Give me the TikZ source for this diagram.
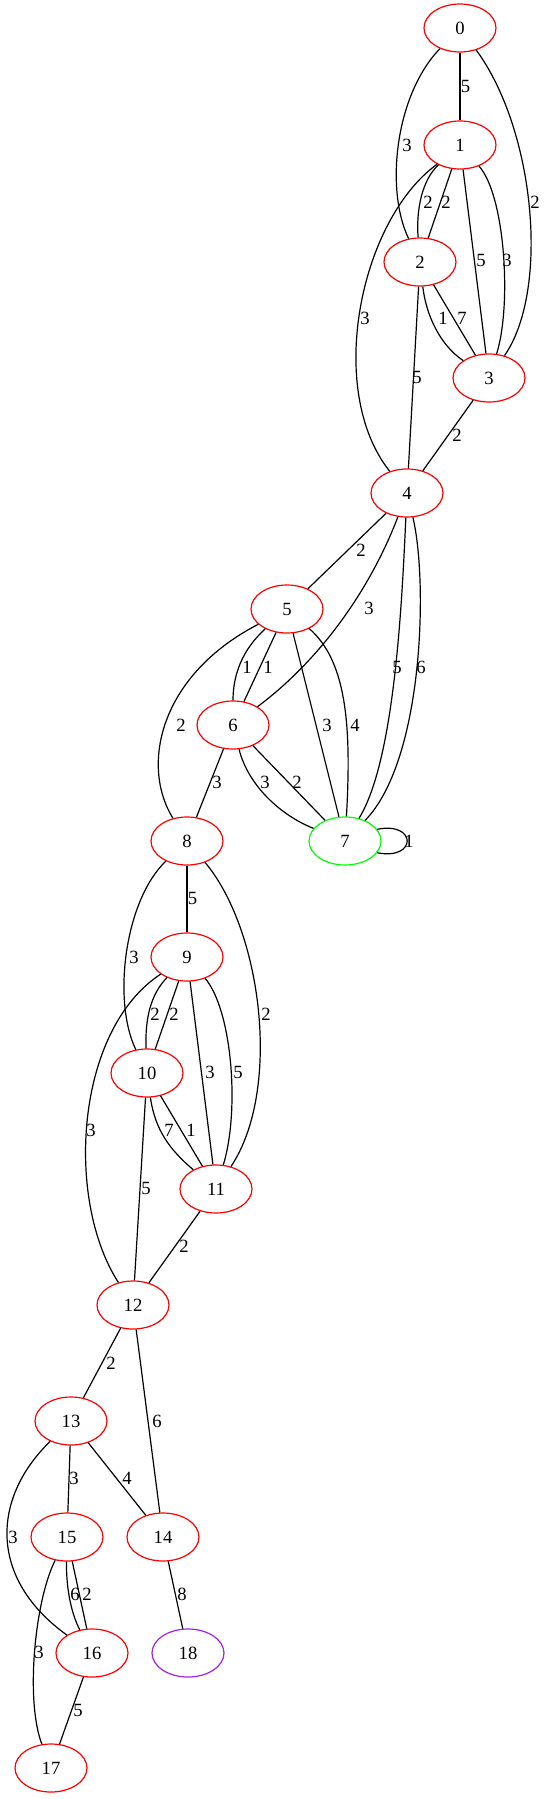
\documentclass[tikz,border=0pt]{standalone}
\usepackage{fontspec}
\setmainfont{Liberation Serif}
\usetikzlibrary{shapes.geometric}
\definecolor{gvred}{HTML}{FF0000}
\definecolor{gvgreen}{HTML}{00FF00}
\definecolor{gvpurple}{HTML}{A020F0}
\begin{document}
\begin{tikzpicture}[x=0.75pt,y=-0.75pt,
  gnode/.style={ellipse,draw=gvred,line width=0.9pt,minimum width=54pt,minimum height=36pt,inner sep=0pt,font=\fontsize{14}{16}\selectfont},
  elab/.style={inner sep=0pt,font=\fontsize{14}{16}\selectfont},
  gedge/.style={line width=0.9pt,black}]
\useasboundingbox (0,0) rectangle (546,1799);
% nodes
\node[gnode] (n0) at (460,28) {0};
\node[gnode] (n1) at (460,145) {1};
\node[gnode] (n2) at (420,262) {2};
\node[gnode] (n3) at (489,378) {3};
\node[gnode] (n4) at (407,493) {4};
\node[gnode] (n5) at (287,609) {5};
\node[gnode] (n6) at (233,725) {6};
\node[gnode,draw=gvgreen] (n7) at (345,841) {7};
\node[gnode] (n8) at (187,841) {8};
\node[gnode] (n9) at (187,957) {9};
\node[gnode] (n10) at (147,1073) {10};
\node[gnode] (n11) at (216,1189) {11};
\node[gnode] (n12) at (133,1305) {12};
\node[gnode] (n13) at (71,1421) {13};
\node[gnode] (n14) at (163,1537) {14};
\node[gnode] (n15) at (67,1537) {15};
\node[gnode] (n16) at (92,1653) {16};
\node[gnode,draw=gvpurple] (n18) at (188,1653) {18};
\node[gnode] (n17) at (51,1768) {17};
% edges
\draw[gedge] (n0) -- (n1);
\draw[gedge] (n0) .. controls (395,95) and (385,190) .. (n2);
\draw[gedge] (n0) .. controls (535,130) and (550,290) .. (n3);
\draw[gedge] (n1) .. controls (422,180) and (416,210) .. (n2);
\draw[gedge] (n1) -- (n2);
\draw[gedge] (n1) -- (n3);
\draw[gedge] (n1) .. controls (505,195) and (512,305) .. (n3);
\draw[gedge] (n1.-140) .. controls (360,220) and (325,390) .. (n4);
\draw[gedge] (n2) .. controls (426,315) and (440,345) .. (n3);
\draw[gedge] (n2) -- (n3);
\draw[gedge] (n2) -- (n4);
\draw[gedge] (n3) -- (n4);
\draw[gedge] (n4) -- (n5);
\draw[gedge] (n4) .. controls (370,590) and (320,660) .. (n6);
\draw[gedge] (n4) .. controls (402,600) and (395,760) .. (n7);
\draw[gedge] (n4) .. controls (428,580) and (424,760) .. (n7);
\draw[gedge] (n5) .. controls (242,650) and (233,675) .. (n6);
\draw[gedge] (n5) -- (n6);
\draw[gedge] (n5) -- (n7);
\draw[gedge] (n5) .. controls (345,660) and (352,720) .. (n7);
\draw[gedge] (n5.-152) .. controls (160,675) and (140,765) .. (n8);
\draw[gedge] (n6) .. controls (248,785) and (280,815) .. (n7);
\draw[gedge] (n6) -- (n7);
\draw[gedge] (n6) -- (n8);
\draw[gedge] (n7.20) .. controls +(40,-8) and +(40,8) .. (n7.-20);
\draw[gedge] (n8) -- (n9);
\draw[gedge] (n8) .. controls (125,900) and (112,1000) .. (n10);
\draw[gedge] (n8) .. controls (262,930) and (282,1090) .. (n11);
\draw[gedge] (n9) .. controls (150,995) and (145,1020) .. (n10);
\draw[gedge] (n9) -- (n10);
\draw[gedge] (n9) -- (n11);
\draw[gedge] (n9) .. controls (232,1010) and (240,1110) .. (n11);
\draw[gedge] (n9) .. controls (75,1030) and (65,1200) .. (n12);
\draw[gedge] (n10) .. controls (155,1130) and (170,1150) .. (n11);
\draw[gedge] (n10) -- (n11);
\draw[gedge] (n10) -- (n12);
\draw[gedge] (n11) -- (n12);
\draw[gedge] (n12) -- (n13);
\draw[gedge] (n12) -- (n14);
\draw[gedge] (n13) -- (n15);
\draw[gedge] (n13) -- (n14);
\draw[gedge] (n13) .. controls (-10,1500) and (-10,1580) .. (n16);
\draw[gedge] (n15) .. controls (66,1590) and (72,1615) .. (n16);
\draw[gedge] (n15) -- (n16);
\draw[gedge] (n15) .. controls (35,1600) and (25,1700) .. (n17);
\draw[gedge] (n14) -- (n18);
\draw[gedge] (n16) -- (n17);
% labels
\node[elab] (l01) at (465.5,86) {5};
\node[elab] (l02) at (407,145) {3};
\node[elab] (l03) at (535,202) {2};
\node[elab] (l12a) at (428,202) {2};
\node[elab] (l12b) at (446,202) {2};
\node[elab] (l13a) at (481,260) {5};
\node[elab] (l13b) at (507,260) {3};
\node[elab] (l14) at (365,318) {3};
\node[elab] (l23a) at (443,318) {1};
\node[elab] (l23b) at (462,318) {7};
\node[elab] (l24) at (417,377) {5};
\node[elab] (l34) at (457,435) {2};
\node[elab] (l45) at (361,550) {2};
\node[elab] (l46) at (369,608) {3};
\node[elab] (l47a) at (397,667) {5};
\node[elab] (l47b) at (421,667) {6};
\node[elab] (l56a) at (247,667) {1};
\node[elab] (l56b) at (268,667) {1};
\node[elab] (l58) at (181,725) {2};
\node[elab] (l57a) at (327,725) {3};
\node[elab] (l57b) at (355,725) {4};
\node[elab] (l68) at (217,782) {3};
\node[elab] (l67a) at (265,782) {3};
\node[elab] (l67b) at (297,782) {2};
\node[elab] (l77) at (409,841) {1};
\node[elab] (l89) at (192.5,898) {5};
\node[elab] (l810) at (134,957) {3};
\node[elab] (l811) at (266,1014) {2};
\node[elab] (l910a) at (155,1014) {2};
\node[elab] (l910b) at (174,1014) {2};
\node[elab] (l911a) at (210,1072) {3};
\node[elab] (l911b) at (238,1072) {5};
\node[elab] (l912) at (91,1130) {3};
\node[elab] (l1011a) at (169,1130) {7};
\node[elab] (l1011b) at (191,1130) {1};
\node[elab] (l1012) at (146,1188) {5};
\node[elab] (l1112) at (184,1246) {2};
\node[elab] (l1213) at (111,1363) {2};
\node[elab] (l1214) at (157,1421) {6};
\node[elab] (l1315) at (74,1478) {3};
\node[elab] (l1314) at (127,1478) {4};
\node[elab] (l1316) at (13,1537) {3};
\node[elab] (l1516a) at (75,1594) {6};
\node[elab] (l1516b) at (87,1594) {2};
\node[elab] (l1418) at (182,1594) {8};
\node[elab] (l1517) at (39,1652) {3};
\node[elab] (l1617) at (78,1710) {5};
\end{tikzpicture}
\end{document}
